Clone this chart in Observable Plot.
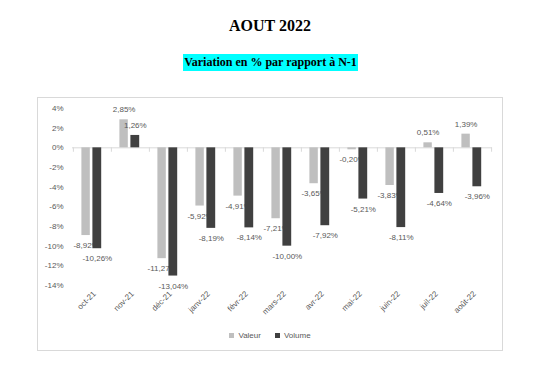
<!DOCTYPE html>
<html><head><meta charset="utf-8">
<script src="https://cdn.jsdelivr.net/npm/d3@7"></script>
<script src="https://cdn.jsdelivr.net/npm/@observablehq/plot@0.6"></script>
<style>
body{margin:0;background:#fff;width:550px;height:372px;position:relative;overflow:hidden;font-family:"Liberation Sans",Arial,sans-serif}
#title{position:absolute;top:16px;left:0;width:540px;text-align:center;font:bold 16px "Liberation Serif","Times New Roman",serif;color:#000;line-height:20px}
#sub{position:absolute;top:53px;left:0;width:541px;text-align:center;line-height:16px}
#sub span{background:#00ffff;font:bold 12px "Liberation Serif","Times New Roman",serif;color:#000;padding:1px 1px 2px 1px}
#box{position:absolute;left:37px;top:97px;width:466px;height:254px;border:1px solid #d9d9d9;box-sizing:border-box}
#chart{position:absolute;left:37px;top:97px}
#legend{position:absolute;top:330px;left:0;width:540px;text-align:center;font-size:8px;color:#595959;line-height:12px}
#legend .sw{display:inline-block;width:5px;height:5px;margin-right:4px;vertical-align:0px}
#legend .it{margin:0 7px}
</style></head>
<body>
<div id="title">AOUT 2022</div>
<div id="sub"><span>Variation en % par rapport à N-1</span></div>
<div id="box"></div>
<div id="chart"></div>
<div id="legend"></div>
<script>
const months = ["oct-21","nov-21","déc-21","janv-22","févr-22","mars-22","avr-22","mai-22","juin-22","juil-22","août-22"];
const valeur = [-8.92, 2.85, -11.27, -5.92, -4.91, -7.21, -3.65, -0.20, -3.83, 0.51, 1.39];
const volume = [-10.26, 1.26, -13.04, -8.19, -8.14, -10.00, -7.92, -5.21, -8.11, -4.64, -3.96];
const series = ["Valeur", "Volume"];
const colors = ["#bfbfbf", "#404040"];
const yTicks = [4, 2, 0, -2, -4, -6, -8, -10, -12, -14];

const valData = months.map((m, i) => ({month: m, value: valeur[i]}));
const volData = months.map((m, i) => ({month: m, value: volume[i]}));
const fmt = v => v.toFixed(2).replace(".", ",") + "%";
const txtColor = "#595959";
const font = "Liberation Sans, Arial, sans-serif";

const labels = (data, dx) => [
  Plot.text(data.filter(d => d.value >= 0), {
    x: "month", y: "value", text: d => fmt(d.value), dx, dy: -10,
    textAnchor: "middle", lineAnchor: "middle", fill: txtColor, fontSize: 8, fontFamily: font
  }),
  Plot.text(data.filter(d => d.value < 0), {
    x: "month", y: "value", text: d => fmt(d.value), dx, dy: 10,
    textAnchor: "middle", lineAnchor: "middle", fill: txtColor, fontSize: 8, fontFamily: font
  })
];

const plot = Plot.plot({
  width: 466, height: 225,
  marginLeft: 35, marginRight: 11, marginTop: 11, marginBottom: 37,
  style: {background: "transparent", fontFamily: font},
  x: {domain: months, padding: 0, label: null},
  y: {domain: [-14, 4], label: null},
  marks: [
    Plot.ruleY([0], {stroke: "#d9d9d9", strokeWidth: 1}),
    Plot.ruleX(months, {x: d => d, dx: -19.1, y1: 0, y2: -0.45, stroke: "#d9d9d9"}),
    Plot.ruleX(months.slice(-1), {x: d => d, dx: 19.1, y1: 0, y2: -0.45, stroke: "#d9d9d9"}),
    Plot.barY(valData, {x: "month", y: "value", fill: colors[0], insetLeft: 8.4, insetRight: 21.2}),
    ...labels(valData, -6.4),
    Plot.barY(volData, {x: "month", y: "value", fill: colors[1], insetLeft: 19.4, insetRight: 9.8}),
    ...labels(volData, 4.8),
    Plot.axisY({ticks: yTicks, tickFormat: d => d + "%", tickSize: 0, tickPadding: 9, fontSize: 8, fill: txtColor, label: null}),
    Plot.axisX({tickRotate: -45, tickSize: 0, tickPadding: 7, fontSize: 8, fill: txtColor, dx: 2, label: null})
  ]
});
document.getElementById("chart").appendChild(plot);

const leg = document.getElementById("legend");
series.forEach((s, i) => {
  const it = document.createElement("span");
  it.className = "it";
  it.innerHTML = `<span class="sw" style="background:${colors[i]}"></span>${s}`;
  leg.appendChild(it);
});
</script>
</body></html>
